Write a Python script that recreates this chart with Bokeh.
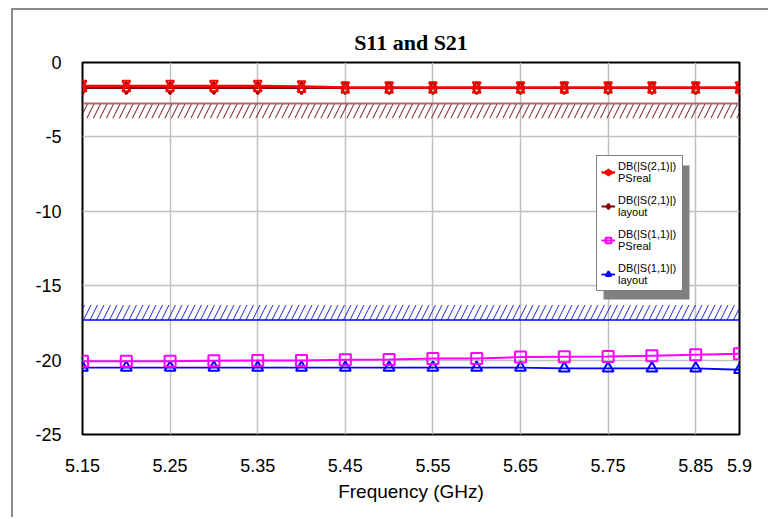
from bokeh.plotting import figure
from bokeh.models import (FixedTicker, Legend, LegendItem, BoxAnnotation, Range1d,
                          ColumnDataSource, Title)
from bokeh.transform import dodge
from bokeh.embed import file_html
from bokeh.resources import INLINE

# ---- data ----
freq = [5.15, 5.20, 5.25, 5.30, 5.35, 5.40, 5.45, 5.50, 5.55, 5.60,
        5.65, 5.70, 5.75, 5.80, 5.85, 5.90]
s21_psreal = [-1.58, -1.58, -1.58, -1.58, -1.58, -1.62, -1.68, -1.68, -1.68, -1.68,
              -1.68, -1.68, -1.68, -1.68, -1.68, -1.68]
s21_layout = [-1.72, -1.72, -1.72, -1.72, -1.72, -1.72, -1.72, -1.72, -1.72, -1.72,
              -1.72, -1.72, -1.72, -1.72, -1.72, -1.72]
s11_psreal = [-20.08, -20.07, -20.07, -20.05, -20.03, -20.03, -19.98, -19.96, -19.89, -19.89,
              -19.8, -19.78, -19.76, -19.7, -19.64, -19.58]
s11_layout = [-20.5, -20.5, -20.5, -20.5, -20.5, -20.5, -20.5, -20.5, -20.5, -20.5,
              -20.5, -20.55, -20.55, -20.55, -20.55, -20.65]
x_ticks = [5.15, 5.25, 5.35, 5.45, 5.55, 5.65, 5.75, 5.85, 5.9]
x_tick_labels = ["5.15", "5.25", "5.35", "5.45", "5.55", "5.65", "5.75", "5.85", "5.9"]
y_ticks = [0, -5, -10, -15, -20, -25]
y_tick_labels = ["0", "-5", "-10", "-15", "-20", "-25"]
s21_limit_x = [5.15, 5.9]
s21_limit_top = [-2.75, -2.75]
s21_limit_bottom = [-3.75, -3.75]
s11_limit_x = [5.15, 5.9]
s11_limit_top = [-16.3, -16.3]
s11_limit_bottom = [-17.3, -17.3]

src = ColumnDataSource(dict(f=freq, s21p=s21_psreal, s21l=s21_layout,
                            s11p=s11_psreal, s11l=s11_layout))

p = figure(width=757, height=509, output_backend="svg", toolbar_location=None,
           x_range=Range1d(5.15, 5.9), y_range=Range1d(-25, 0),
           min_border_left=69, min_border_right=31, min_border_top=52, min_border_bottom=85)
p.styles = {"margin-left": "11px", "margin-top": "8px",
            "border-left": "2px solid #8c8c8c", "border-top": "2px solid #8c8c8c"}

p.title = Title(text="S11 and S21", align="center", text_font="Liberation Serif",
                text_font_size="22px", text_font_style="bold", text_color="black", standoff=15)

p.outline_line_color = "black"
p.outline_line_width = 2
p.background_fill_color = "white"
p.border_fill_color = "white"

for ax in (p.xaxis[0], p.yaxis[0]):
    ax.axis_line_color = None
    ax.major_tick_line_color = None
    ax.minor_tick_line_color = None
    ax.major_tick_in = 0
    ax.major_tick_out = 0
    ax.minor_tick_in = 0
    ax.minor_tick_out = 0
    ax.major_label_text_font = "Liberation Sans"
    ax.major_label_text_font_size = "18px"
    ax.major_label_text_color = "black"

p.xaxis.ticker = FixedTicker(ticks=x_ticks)
p.yaxis.ticker = FixedTicker(ticks=y_ticks)
p.xaxis.major_label_overrides = dict(zip(x_ticks, x_tick_labels))
p.yaxis.major_label_overrides = dict(zip(y_ticks, y_tick_labels))
p.xaxis.major_label_standoff = 24
p.yaxis.major_label_standoff = 21
p.xaxis.axis_label = "Frequency (GHz)"
p.xaxis.axis_label_text_font = "Liberation Sans"
p.xaxis.axis_label_text_font_size = "19px"
p.xaxis.axis_label_text_font_style = "normal"
p.xaxis.axis_label_text_color = "black"
p.xaxis.axis_label_standoff = 6

p.xgrid.grid_line_color = "#c0c0c0"
p.ygrid.grid_line_color = "#c0c0c0"
p.xgrid.grid_line_width = 1.5
p.ygrid.grid_line_width = 1.5

# limit regions
p.varea(x=s21_limit_x, y1=s21_limit_bottom, y2=s21_limit_top, fill_alpha=0,
        hatch_pattern="/", hatch_color="#7a1010", hatch_scale=13, hatch_weight=1)
p.line(x=s21_limit_x, y=s21_limit_top, line_color="#b06868", line_width=2)
p.varea(x=s11_limit_x, y1=s11_limit_bottom, y2=s11_limit_top, fill_alpha=0,
        hatch_pattern="/", hatch_color="#2020e0", hatch_scale=13, hatch_weight=1)
p.line(x=s11_limit_x, y=s11_limit_bottom, line_color="#0000ff", line_width=1.5)

# S11 layout (blue triangles)
r_b_l = p.line("f", "s11l", source=src, line_color="#0000ff", line_width=1.8)
r_b_m = p.scatter("f", "s11l", source=src, marker="triangle", size=11, line_color="#0000ff",
                  line_width=2, fill_color=None)
# S11 PSreal (magenta squares)
r_m_l = p.line("f", "s11p", source=src, line_color="#ff00ff", line_width=2)
r_m_m = p.scatter("f", "s11p", source=src, marker="square", size=11, line_color="#ff00ff",
                  line_width=2, fill_color=None)
# S21 layout (dark red diamonds)
r_d_l = p.line("f", "s21l", source=src, line_color="#8b0000", line_width=2)
r_d_m = p.scatter("f", "s21l", source=src, marker="diamond", size=12, line_color="#8b0000",
                  line_width=2, fill_color=None)
# S21 PSreal (red hourglass)
r_r_l = p.line("f", "s21p", source=src, line_color="#ff0000", line_width=2.5)
r_r_m1 = p.scatter(x="f", y=dodge("s21p", 0.2, range=p.y_range), source=src,
                   marker="inverted_triangle", size=8, line_color="#ff0000",
                   line_width=2, fill_color=None)
r_r_m2 = p.scatter(x="f", y=dodge("s21p", -0.2, range=p.y_range), source=src,
                   marker="triangle", size=8, line_color="#ff0000",
                   line_width=2, fill_color=None)

# legend shadow (screen units relative to the frame's bottom-left corner)
shadow = BoxAnnotation(left=521, right=607, top=269, bottom=135,
                       left_units="screen", right_units="screen",
                       top_units="screen", bottom_units="screen",
                       fill_color="#808080", fill_alpha=1, line_color=None)
p.add_layout(shadow)

legend = Legend(items=[
    LegendItem(label="DB(|S(2,1)|)\nPSreal", renderers=[r_r_l, r_r_m1, r_r_m2]),
    LegendItem(label="DB(|S(2,1)|)\nlayout", renderers=[r_d_l, r_d_m]),
    LegendItem(label="DB(|S(1,1)|)\nPSreal", renderers=[r_m_l, r_m_m]),
    LegendItem(label="DB(|S(1,1)|)\nlayout", renderers=[r_b_l, r_b_m]),
], location=(514, 143), orientation="vertical")
legend.label_text_font = "Liberation Sans"
legend.label_text_font_size = "11px"
legend.label_text_color = "black"
legend.glyph_width = 14
legend.glyph_height = 14
legend.label_standoff = 3
legend.label_width = 60
legend.padding = 4
legend.spacing = 10
legend.margin = 0
legend.border_line_color = "black"
legend.border_line_width = 1
legend.background_fill_color = "white"
legend.background_fill_alpha = 1
p.add_layout(legend)

open("out.html", "w").write(file_html(p, INLINE))
